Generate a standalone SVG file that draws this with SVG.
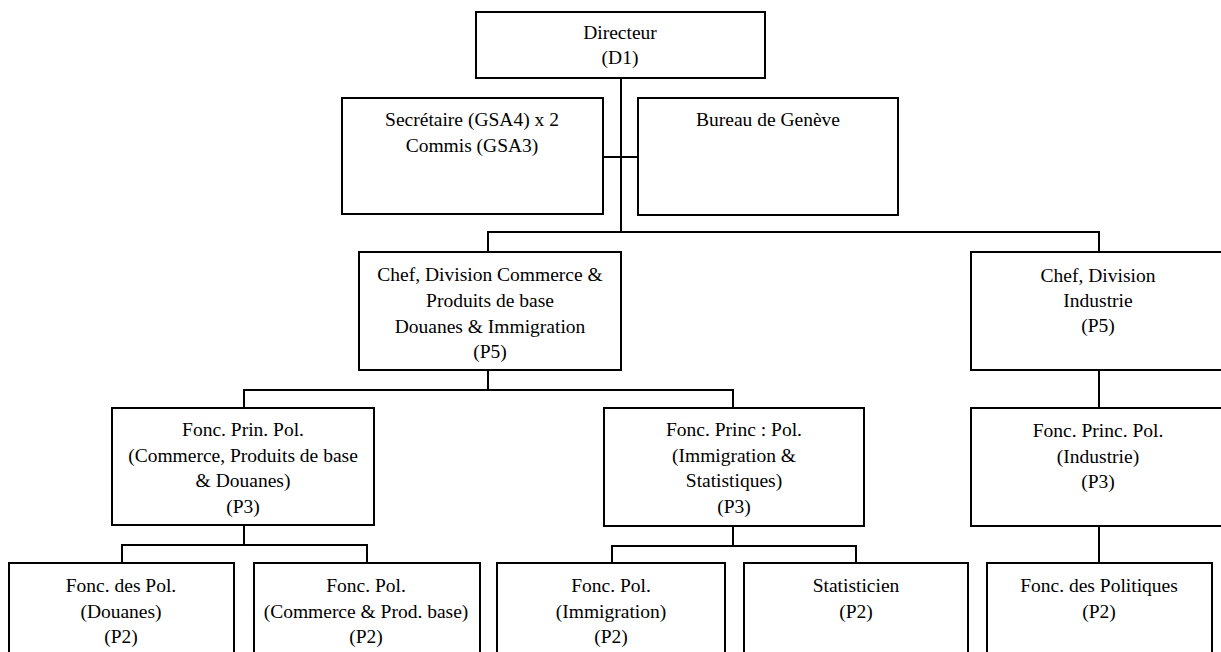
<svg xmlns="http://www.w3.org/2000/svg" width="1221" height="652" viewBox="0 0 1221 652">
<style>
.box{fill:#fff;stroke:#000;stroke-width:2}
.ln{stroke:#000;stroke-width:2;fill:none}
text{font-family:"Liberation Serif","Times New Roman",serif;font-size:19.5px;fill:#000;text-anchor:middle}
</style>
<rect width="1221" height="652" fill="#fff"/>
<g id="connectors">
<path class="ln" d="M621,78V232"/>
<path class="ln" d="M603,157H638"/>
<path class="ln" d="M488,252V232H1099V252"/>
<path class="ln" d="M488,370V390"/>
<path class="ln" d="M244,408V390H733V408"/>
<path class="ln" d="M1099,370V408"/>
<path class="ln" d="M244,525V545"/>
<path class="ln" d="M122,563V545H367V563"/>
<path class="ln" d="M733,526V546"/>
<path class="ln" d="M612,563V546H856V563"/>
<path class="ln" d="M1099,526V563"/>
</g>
<g id="directeur">
<rect class="box" x="476" y="12" width="289" height="66"/>
<text x="620" y="39">Directeur</text>
<text x="620" y="64">(D1)</text>
</g>
<g id="secretaire">
<rect class="box" x="342" y="98" width="261" height="116"/>
<text x="472" y="126">Secrétaire (GSA4) x 2</text>
<text x="472" y="152">Commis (GSA3)</text>
</g>
<g id="bureau-geneve">
<rect class="box" x="638" y="98" width="260" height="117"/>
<text x="768" y="126">Bureau de Genève</text>
</g>
<g id="chef-commerce">
<rect class="box" x="359" y="252" width="262" height="118"/>
<text x="490" y="281">Chef, Division  Commerce &amp;</text>
<text x="490" y="307">Produits de base</text>
<text x="490" y="333">Douanes &amp; Immigration</text>
<text x="490" y="358">(P5)</text>
</g>
<g id="chef-industrie">
<rect class="box" x="971" y="252" width="256" height="118"/>
<text x="1098" y="282">Chef, Division</text>
<text x="1098" y="307">Industrie</text>
<text x="1098" y="332">(P5)</text>
</g>
<g id="fpp-commerce">
<rect class="box" x="112" y="408" width="262" height="117"/>
<text x="243" y="436">Fonc. Prin. Pol.</text>
<text x="243" y="462">(Commerce,  Produits de base</text>
<text x="243" y="487">&amp; Douanes)</text>
<text x="243" y="513">(P3)</text>
</g>
<g id="fpp-immigration">
<rect class="box" x="604" y="408" width="260" height="118"/>
<text x="734" y="436">Fonc. Princ : Pol.</text>
<text x="734" y="462">(Immigration &amp;</text>
<text x="734" y="487">Statistiques)</text>
<text x="734" y="513">(P3)</text>
</g>
<g id="fpp-industrie">
<rect class="box" x="971" y="408" width="256" height="118"/>
<text x="1098" y="437">Fonc. Princ. Pol.</text>
<text x="1098" y="463">(Industrie)</text>
<text x="1098" y="488">(P3)</text>
</g>
<g id="fp-douanes">
<rect class="box" x="9" y="563" width="225" height="100"/>
<text x="121" y="592">Fonc. des Pol.</text>
<text x="121" y="618">(Douanes)</text>
<text x="121" y="643">(P2)</text>
</g>
<g id="fp-commerce">
<rect class="box" x="254" y="563" width="226" height="100"/>
<text x="366" y="592">Fonc. Pol.</text>
<text x="366" y="618">(Commerce &amp; Prod. base)</text>
<text x="366" y="643">(P2)</text>
</g>
<g id="fp-immigration">
<rect class="box" x="497" y="563" width="228" height="100"/>
<text x="611" y="592">Fonc. Pol.</text>
<text x="611" y="618">(Immigration)</text>
<text x="611" y="643">(P2)</text>
</g>
<g id="statisticien">
<rect class="box" x="744" y="563" width="224" height="100"/>
<text x="856" y="592">Statisticien</text>
<text x="856" y="618">(P2)</text>
</g>
<g id="fp-politiques">
<rect class="box" x="987" y="563" width="225" height="100"/>
<text x="1099" y="592">Fonc. des Politiques</text>
<text x="1099" y="618">(P2)</text>
</g>
</svg>
